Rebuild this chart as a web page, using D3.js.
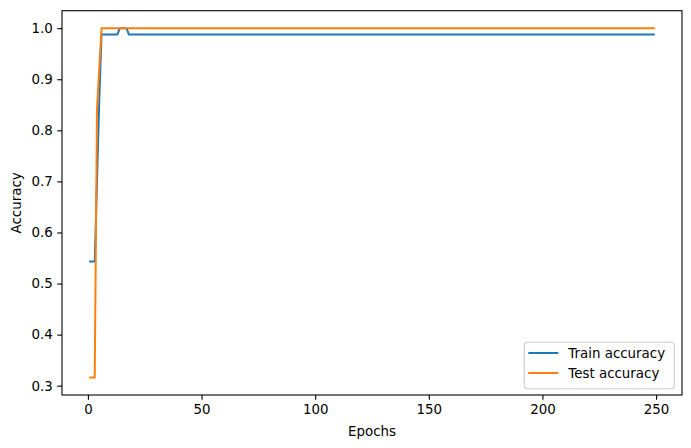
<!DOCTYPE html>
<html>
  <head>
    <title>Train / test accuracy</title>
    <script src="https://cdn.jsdelivr.net/npm/d3@7"></script>
    <style>
      body { margin: 0; background: #fff; }
      text { font-family: "DejaVu Sans", sans-serif; }
    </style>
  </head>
  <body>
    <svg id="svg" width="691" height="448" xmlns="http://www.w3.org/2000/svg"></svg>
    <script>
      // Change points of each curve (epoch, accuracy); the line is flat between them
      let trainEpochs = [1, 3, 4, 5, 6, 13, 14, 17, 18, 249];
      let trainAcc = [0.543, 0.543, 0.70, 0.86, 0.9877, 0.9877, 1.0, 1.0, 0.9877, 0.9877];

      let testEpochs = [1, 3, 4, 5, 6, 249];
      let testAcc = [0.316, 0.316, 0.842, 0.921, 1.0, 1.0];

      let xTicks = [0, 50, 100, 150, 200, 250];
      let yTicks = [0.3, 0.4, 0.5, 0.6, 0.7, 0.8, 0.9, 1.0];

      let seriesNames = ["Train accuracy", "Test accuracy"];
      let colors = ["#1f77b4", "#ff7f0e"];

      let svg = d3.select("svg");
      let plotLeft = 62, plotRight = 682, plotTop = 10.7, plotBottom = 395;
      let fontSize = 13.4;

      // domains padded by 5% like matplotlib
      let xMin = 1, xMax = 249;
      let xPad = (xMax - xMin) * 0.05;
      let yMin = 0.316, yMax = 1.0;
      let yPad = (yMax - yMin) * 0.05;

      let x = d3.scaleLinear().domain([xMin - xPad, xMax + xPad]).range([plotLeft, plotRight]);
      let y = d3.scaleLinear().domain([yMin - yPad, yMax + yPad]).range([plotBottom, plotTop]);

      let series = [
        trainEpochs.map((e, i) => ({ e: e, v: trainAcc[i] })),
        testEpochs.map((e, i) => ({ e: e, v: testAcc[i] })),
      ];

      let line = d3.line().x((d) => x(d.e)).y((d) => y(d.v));

      svg
        .selectAll(".curve")
        .data(series)
        .enter()
        .append("path")
        .attr("class", "curve")
        .attr("d", line)
        .attr("fill", "none")
        .attr("stroke", (d, i) => colors[i])
        .attr("stroke-width", 2)
        .attr("stroke-linejoin", "round")
        .attr("stroke-linecap", "square");

      // Axes
      let xAxis = svg
        .append("g")
        .attr("transform", "translate(0," + plotBottom + ")")
        .call(d3.axisBottom(x).tickValues(xTicks).tickSize(4.8).tickPadding(4.5).tickFormat(d3.format("d")));
      let yAxis = svg
        .append("g")
        .attr("transform", "translate(" + plotLeft + ",0)")
        .call(d3.axisLeft(y).tickValues(yTicks).tickSize(4.8).tickPadding(4.5).tickFormat(d3.format(".1f")));

      [xAxis, yAxis].forEach((a) => {
        a.select(".domain").remove();
        a.selectAll("line").attr("stroke", "#000").attr("stroke-width", 1.1);
        a.selectAll("text").attr("font-size", fontSize).attr("fill", "#000").attr("font-family", "DejaVu Sans");
      });

      // Frame
      svg
        .append("rect")
        .attr("x", plotLeft)
        .attr("y", plotTop)
        .attr("width", plotRight - plotLeft)
        .attr("height", plotBottom - plotTop)
        .attr("fill", "none")
        .attr("stroke", "#000")
        .attr("stroke-width", 1.1);

      // Axis labels
      svg
        .append("text")
        .attr("x", (plotLeft + plotRight) / 2)
        .attr("y", 436)
        .attr("text-anchor", "middle")
        .attr("font-size", fontSize)
        .text("Epochs");
      svg
        .append("text")
        .attr("transform", "translate(20.5," + (plotTop + plotBottom) / 2 + ") rotate(-90)")
        .attr("text-anchor", "middle")
        .attr("font-size", fontSize)
        .text("Accuracy");

      // Legend
      let lg = svg.append("g").attr("transform", "translate(524.3,342.3)");
      lg.append("rect")
        .attr("width", 150)
        .attr("height", 46.4)
        .attr("rx", 3)
        .attr("fill", "#fff")
        .attr("fill-opacity", 0.8)
        .attr("stroke", "#cccccc")
        .attr("stroke-width", 1.1);
      seriesNames.forEach((name, i) => {
        let row = lg.append("g").attr("transform", "translate(0," + (10.7 + i * 20) + ")");
        row.append("line")
          .attr("x1", 4).attr("x2", 34)
          .attr("stroke", colors[i])
          .attr("stroke-width", 2);
        row.append("text")
          .attr("x", 44)
          .attr("dy", "0.35em")
          .attr("font-size", fontSize)
          .text(name);
      });
    </script>
  </body>
</html>
